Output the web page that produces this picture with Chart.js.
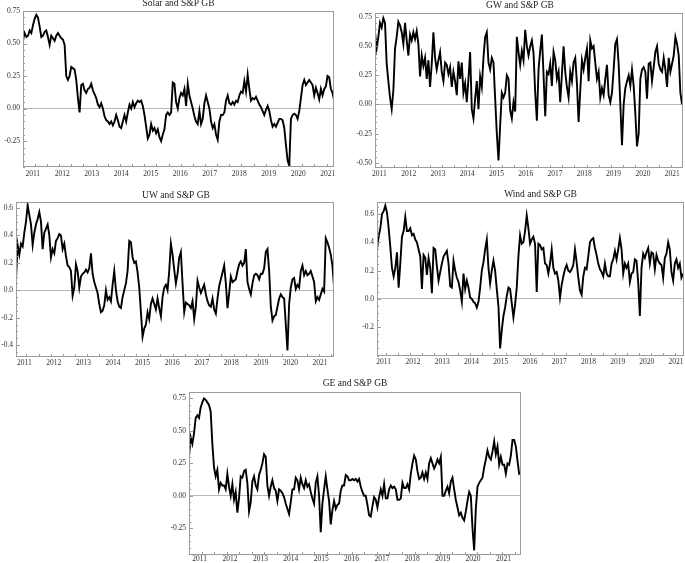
<!DOCTYPE html>
<html>
<head>
<meta charset="utf-8">
<script src="https://cdn.jsdelivr.net/npm/chart.js@4.4.1/dist/chart.umd.min.js"></script>
<style>
  html, body { margin: 0; padding: 0; background: #fff; }
  body { width: 685px; height: 563px; position: relative; overflow: hidden; }
  canvas { position: absolute; }
</style>
</head>
<body>
<canvas id="solar"></canvas>
<canvas id="gw"></canvas>
<canvas id="uw"></canvas>
<canvas id="wind"></canvas>
<canvas id="ge"></canvas>
<script>
// Rolling correlations with S&P GB, sampled every ~3 weeks (year, step in years)
const yearTicks = [2011, 2012, 2013, 2014, 2015, 2016, 2017, 2018, 2019, 2020, 2021];

const solarStart = 2010.67, solarStep = 0.0564;
const solarValues = [
  0.52,0.58,0.55,0.56,0.60,0.58,0.64,0.69,0.72,0.70,
  0.63,0.55,0.56,0.59,0.60,0.55,0.49,0.56,0.54,0.52,
  0.56,0.58,0.56,0.54,0.53,0.49,0.25,0.22,0.25,0.32,
  0.31,0.30,0.22,0.08,-0.03,0.18,0.19,0.14,0.12,0.15,
  0.16,0.19,0.14,0.11,0.08,0.03,0.01,0.04,0.00,-0.06,
  -0.09,-0.10,-0.12,-0.10,-0.13,-0.10,-0.05,-0.09,-0.14,-0.15,
  -0.10,-0.05,-0.10,-0.03,0.03,0.00,0.05,0.01,0.04,0.06,
  0.05,0.06,0.02,-0.05,-0.14,-0.23,-0.20,-0.12,-0.17,-0.15,
  -0.19,-0.16,-0.22,-0.25,-0.20,-0.16,-0.05,-0.03,-0.05,-0.03,
  0.20,0.19,0.05,0.00,0.08,0.12,0.10,0.15,0.02,0.19,
  0.10,0.05,0.00,-0.06,-0.10,-0.12,-0.02,-0.12,-0.08,0.04,
  0.10,0.05,0.00,-0.10,-0.15,-0.12,-0.20,-0.24,-0.10,-0.05,
  -0.05,-0.03,0.06,0.10,0.04,0.03,0.05,0.03,0.06,0.05,
  0.10,0.13,0.12,0.21,0.13,0.26,0.15,0.06,0.08,0.07,
  0.09,0.06,0.03,0.01,-0.02,-0.05,-0.01,0.02,-0.02,-0.09,
  -0.14,-0.12,-0.14,-0.11,-0.08,-0.08,-0.09,-0.15,-0.28,-0.40,
  -0.44,-0.08,-0.05,-0.04,-0.05,-0.08,-0.02,0.08,0.18,0.22,
  0.18,0.20,0.22,0.20,0.18,0.10,0.16,0.12,0.07,0.15,
  0.10,0.15,0.17,0.25,0.24,0.15,0.12,0.06
];
const solarYTicks = [-0.25, 0, 0.25, 0.5, 0.75];

const gwStart = 2010.85, gwStep = 0.0570;
const gwValues = [
  0.62,0.48,0.58,0.70,0.66,0.74,0.70,0.35,0.20,0.06,
  -0.04,0.12,0.48,0.58,0.71,0.68,0.62,0.52,0.70,0.55,
  0.42,0.60,0.55,0.62,0.56,0.63,0.52,0.24,0.42,0.33,
  0.40,0.22,0.38,0.15,0.35,0.62,0.40,0.30,0.38,0.45,
  0.28,0.20,0.36,0.34,0.26,0.32,0.15,0.28,0.20,0.08,
  0.37,0.22,0.36,0.10,0.18,0.02,0.22,0.45,-0.04,-0.12,
  0.05,0.20,-0.04,0.24,0.15,0.40,0.58,0.62,0.36,0.30,
  0.40,0.36,0.05,-0.25,-0.48,-0.18,0.10,0.06,0.10,0.25,
  0.22,-0.05,-0.12,0.02,-0.06,0.58,0.45,0.34,0.46,0.38,
  0.64,0.50,0.42,0.50,0.55,0.44,0.10,-0.14,0.30,0.46,
  0.60,0.25,-0.10,0.28,0.26,0.35,0.16,0.45,0.38,0.22,
  0.28,0.02,0.26,0.50,0.28,0.15,0.06,0.28,0.20,0.36,
  0.40,0.18,-0.15,0.12,0.38,0.30,0.40,0.48,0.20,0.55,
  0.48,0.50,0.36,0.22,0.28,0.06,0.14,0.08,0.22,0.34,
  0.08,0.02,0.10,0.30,0.52,0.56,0.35,0.00,-0.35,0.00,
  0.14,0.20,0.25,0.16,0.30,0.16,-0.08,-0.36,-0.25,0.22,
  0.30,0.32,0.28,0.05,0.35,0.36,0.20,0.32,0.45,0.50,
  0.35,0.30,0.28,0.40,0.30,0.15,0.40,0.28,0.35,0.42,
  0.58,0.52,0.42,0.10,0.00
];
const gwYTicks = [-0.5, -0.25, 0, 0.25, 0.5, 0.75];

const uwStart = 2010.72, uwStep = 0.0563;
const uwValues = [
  0.08,0.33,0.26,0.34,0.32,0.42,0.50,0.62,0.55,0.48,
  0.33,0.42,0.48,0.52,0.57,0.50,0.30,0.42,0.45,0.48,
  0.40,0.24,0.30,0.27,0.36,0.38,0.41,0.40,0.30,0.34,
  0.25,0.18,0.17,0.14,-0.04,0.02,0.19,0.14,0.02,0.10,
  0.12,0.13,0.15,0.13,0.16,0.27,0.12,0.06,0.02,-0.02,
  -0.10,-0.16,-0.15,-0.11,0.00,-0.07,-0.05,-0.08,0.04,0.14,
  0.00,-0.08,-0.12,-0.13,-0.05,0.00,0.05,0.14,0.36,0.35,
  0.24,0.20,0.21,0.13,0.02,-0.16,-0.34,-0.28,-0.25,-0.16,
  -0.21,-0.10,-0.06,-0.10,-0.14,-0.06,-0.13,-0.19,-0.05,0.02,
  0.04,0.00,0.14,0.34,0.26,0.15,0.05,0.12,0.24,0.28,
  0.05,-0.16,-0.09,-0.10,-0.11,-0.13,-0.08,-0.21,-0.12,0.07,
  0.02,-0.02,0.01,0.04,-0.03,-0.08,-0.11,-0.12,-0.06,-0.14,
  -0.17,-0.06,0.03,0.08,0.13,0.18,0.05,-0.13,-0.02,0.10,
  0.06,0.07,0.08,0.14,0.19,0.21,0.18,0.20,0.30,0.06,
  0.01,-0.03,0.05,0.11,0.12,0.11,0.08,0.12,0.12,0.16,
  0.28,0.30,0.14,-0.12,-0.22,-0.19,-0.18,-0.12,-0.06,-0.03,
  -0.05,-0.06,-0.25,-0.44,-0.10,0.02,0.08,0.09,0.01,0.04,
  0.02,0.14,0.18,0.11,0.14,0.11,0.12,0.14,0.10,0.06,
  -0.08,-0.05,-0.07,-0.03,0.01,-0.01,0.38,0.35,0.31,0.26,
  0.18,0.02
];
const uwYTicks = [-0.4, -0.2, 0, 0.2, 0.4, 0.6];

const windStart = 2010.77, windStep = 0.0569;
const windValues = [
  0.35,0.44,0.50,0.60,0.62,0.66,0.61,0.50,0.37,0.22,
  0.16,0.22,0.33,0.08,0.25,0.44,0.48,0.58,0.48,0.48,
  0.50,0.45,0.46,0.42,0.40,0.35,0.30,0.07,0.31,0.29,
  0.17,0.29,0.22,0.04,0.36,0.35,0.23,0.13,0.19,0.25,
  0.30,0.32,0.34,0.25,0.09,0.08,0.27,0.20,0.15,0.12,
  0.06,-0.02,0.18,0.07,0.13,0.08,0.01,0.00,-0.02,-0.03,
  -0.06,-0.02,0.08,0.20,0.26,0.35,0.42,0.22,0.11,0.20,
  0.27,0.20,0.07,-0.05,-0.35,-0.22,-0.12,-0.06,0.02,0.08,
  0.07,-0.03,-0.13,-0.04,0.08,0.30,0.45,0.39,0.40,0.48,
  0.59,0.50,0.39,0.42,0.44,0.39,0.05,0.39,0.38,0.35,
  0.36,0.25,0.24,0.18,0.25,0.35,0.22,0.18,0.19,0.13,
  0.01,0.10,0.16,0.21,0.24,0.20,0.19,0.21,0.24,0.35,
  0.26,0.15,0.06,0.03,0.16,0.22,0.21,0.30,0.40,0.42,
  0.43,0.36,0.31,0.25,0.21,0.19,0.16,0.25,0.18,0.16,
  0.16,0.25,0.28,0.34,0.28,0.35,0.43,0.35,0.18,0.25,
  0.22,0.25,0.12,0.18,0.19,0.28,0.27,0.12,-0.12,0.22,
  0.32,0.29,0.33,0.36,0.25,0.33,0.32,0.21,0.31,0.27,
  0.25,0.24,0.15,0.29,0.32,0.40,0.35,0.19,0.13,0.25,
  0.28,0.22,0.25,0.15,0.18
];
const windYTicks = [-0.2, 0, 0.2, 0.4, 0.6];

const geStart = 2010.65, geStep = 0.0549;
const geValues = [
  0.30,0.45,0.40,0.48,0.60,0.62,0.60,0.68,0.72,0.75,
  0.74,0.72,0.70,0.65,0.40,0.22,0.15,0.20,0.05,0.10,
  0.08,0.08,0.05,0.17,0.07,0.00,0.09,-0.03,0.03,-0.13,
  -0.02,0.15,0.14,0.19,0.20,0.10,-0.12,-0.05,0.11,0.15,
  0.08,0.05,0.16,0.20,0.25,0.32,0.30,0.08,0.00,0.07,
  0.12,0.06,0.04,-0.04,0.05,0.04,0.02,-0.01,-0.06,-0.10,
  -0.14,-0.05,0.05,0.05,0.14,0.12,0.05,0.14,0.09,0.06,
  0.12,0.07,0.09,0.03,-0.02,-0.06,0.10,0.15,0.00,-0.28,
  -0.06,0.05,0.15,0.05,-0.04,-0.22,-0.11,-0.04,-0.10,-0.07,
  -0.06,0.04,0.08,0.08,0.16,0.15,0.12,0.12,0.13,0.12,
  0.13,0.11,0.13,0.07,0.03,0.00,0.00,-0.07,-0.15,-0.16,
  -0.08,-0.01,-0.03,-0.09,-0.01,0.05,0.00,0.09,-0.02,-0.02,
  0.05,0.08,0.06,0.07,0.05,-0.03,-0.03,-0.02,0.10,0.06,
  0.06,0.09,0.05,0.17,0.25,0.31,0.28,0.19,0.13,0.14,
  0.18,0.13,0.18,0.13,0.25,0.29,0.25,0.21,0.24,0.28,
  0.25,0.30,0.00,0.00,0.04,0.07,0.02,0.11,0.14,0.05,
  -0.03,-0.09,-0.15,-0.13,-0.17,-0.19,-0.12,-0.04,0.03,0.00,
  -0.25,-0.42,-0.10,0.07,0.10,0.12,0.14,0.22,0.28,0.35,
  0.30,0.28,0.34,0.42,0.32,0.38,0.24,0.30,0.24,0.24,
  0.17,0.25,0.24,0.31,0.43,0.43,0.38,0.27,0.17,0.18
];
const geYTicks = [-0.25, 0, 0.25, 0.5, 0.75];

// layout of each cropped panel: box = [left, top, width, height]
const panels = [
  { id: 'solar', title: 'Solar and S&P GB', start: solarStart, step: solarStep, values: solarValues, yTicks: solarYTicks, dec: 2,
    xMin: 2010.67, xMax: 2021.21, yMin: -0.45, yMax: 0.75,
    box: [0, 0, 340, 185], yW: 23, xH: 18, padTop: 11, padRight: 6, titleDx: 0, titleDy: 8, xPad: 3 },
  { id: 'gw', title: 'GW and S&P GB', start: gwStart, step: gwStep, values: gwValues, yTicks: gwYTicks, dec: 2,
    xMin: 2010.85, xMax: 2021.37, yMin: -0.545, yMax: 0.785,
    box: [342, 0, 343, 185], yW: 33, xH: 17, padTop: 13, padRight: 2, titleDx: -9, titleDy: 8, xPad: 2 },
  { id: 'uw', title: 'UW and S&P GB', start: uwStart, step: uwStep, values: uwValues, yTicks: uwYTicks, dec: 1,
    xMin: 2010.72, xMax: 2021.47, yMin: -0.487, yMax: 0.644,
    box: [0, 185, 340, 190], yW: 16, xH: 18, padTop: 17, padRight: 6, titleDx: 1, titleDy: 7, xPad: 2 },
  { id: 'wind', title: 'Wind and S&P GB', start: windStart, step: windStep, values: windValues, yTicks: windYTicks, dec: 1,
    xMin: 2010.77, xMax: 2021.27, yMin: -0.403, yMax: 0.685,
    box: [342, 185, 343, 190], yW: 35, xH: 19, padTop: 17, padRight: 1, titleDx: 10, titleDy: 8, xPad: 2 },
  { id: 'ge', title: 'GE and S&P GB', start: geStart, step: geStep, values: geValues, yTicks: geYTicks, dec: 2,
    xMin: 2010.65, xMax: 2021.58, yMin: -0.456, yMax: 0.80,
    box: [160, 375, 370, 188], yW: 29, xH: 8, padTop: 17, padRight: 9, titleDx: 0, titleDy: 9, xPad: 0 }
];

const tickFont = { family: '"Liberation Serif", "DejaVu Serif", serif', size: 7.5 };
const tickColor = '#333';
const frameColor = '#9c9c9c';

// frame box plus inward tick marks on left and bottom
const frameTicks = {
  id: 'frameTicks',
  afterDatasetsDraw(chart, args, opts) {
    const { ctx, chartArea: a, scales: { x, y } } = chart;
    ctx.save();
    ctx.strokeStyle = frameColor;
    ctx.lineWidth = 1;
    ctx.beginPath();
    const k0 = Math.ceil(y.min / 0.05 - 1e-6), k1 = Math.floor(y.max / 0.05 + 1e-6);
    for (let k = k0; k <= k1; k++) {
      const v = k * 0.05;
      const major = opts.yTicks.some(t => Math.abs(t - v) < 1e-6);
      const py = Math.round(y.getPixelForValue(v)) + 0.5;
      ctx.moveTo(a.left, py);
      ctx.lineTo(a.left + (major ? 4 : 2), py);
    }
    const xs = 2011.07, xStep = 0.412;
    const j0 = Math.ceil((x.min - xs) / xStep), j1 = Math.floor((x.max - xs) / xStep);
    for (let j = j0; j <= j1; j++) {
      const px = Math.round(x.getPixelForValue(xs + j * xStep)) + 0.5;
      ctx.moveTo(px, a.bottom);
      ctx.lineTo(px, a.bottom - 3);
    }
    ctx.stroke();
    const l = Math.round(a.left) + 0.5, t = Math.round(a.top) + 0.5;
    const r = Math.round(a.right) - 0.5, b = Math.round(a.bottom) - 0.5;
    ctx.strokeRect(l, t, r - l, b - t);
    ctx.restore();
  }
};

const panelTitle = {
  id: 'panelTitle',
  afterDraw(chart, args, opts) {
    const { ctx, chartArea: a } = chart;
    ctx.save();
    ctx.font = '9.5px "Liberation Serif", "DejaVu Serif", serif';
    ctx.fillStyle = '#222';
    ctx.textAlign = 'center';
    ctx.textBaseline = 'middle';
    ctx.fillText(opts.text, (a.left + a.right) / 2 + opts.dx, a.top - opts.dy);
    ctx.restore();
  }
};

panels.forEach(p => {
  const canvas = document.getElementById(p.id);
  const [left, top, w, h] = p.box;
  canvas.width = w;
  canvas.height = h;
  canvas.style.left = left + 'px';
  canvas.style.top = top + 'px';
  canvas.style.width = w + 'px';
  canvas.style.height = h + 'px';

  const points = p.values.map((v, i) => ({ x: p.start + i * p.step, y: v }));

  new Chart(canvas, {
    type: 'line',
    data: {
      datasets: [{
        data: points,
        borderColor: '#000',
        borderWidth: 1.9,
        pointRadius: 0,
        tension: 0,
        fill: false
      }]
    },
    options: {
      responsive: false,
      animation: false,
      devicePixelRatio: 1,
      layout: { padding: { top: p.padTop, right: p.padRight, left: 0, bottom: 0 } },
      plugins: {
        legend: { display: false },
        tooltip: { enabled: false },
        frameTicks: { yTicks: p.yTicks },
        panelTitle: { text: p.title, dx: p.titleDx, dy: p.titleDy }
      },
      scales: {
        x: {
          type: 'linear',
          min: p.xMin,
          max: p.xMax,
          afterBuildTicks: s => { s.ticks = yearTicks.map(v => ({ value: v })); },
          afterFit: s => { s.height = p.xH; s.paddingLeft = 0; s.paddingRight = 0; },
          grid: { display: false, drawTicks: false },
          border: { display: false },
          ticks: { font: tickFont, color: tickColor, padding: p.xPad, maxRotation: 0, autoSkip: false,
                   callback: v => String(v) }
        },
        y: {
          min: p.yMin,
          max: p.yMax,
          afterBuildTicks: s => { s.ticks = p.yTicks.map(v => ({ value: v })); },
          afterFit: s => { s.width = p.yW; s.paddingTop = 0; s.paddingBottom = 0; },
          grid: { drawTicks: false, lineWidth: 1,
                  color: c => (c.tick && Math.abs(c.tick.value) < 1e-9) ? '#b8b8b8' : 'rgba(0,0,0,0)' },
          border: { display: false },
          ticks: { font: tickFont, color: tickColor, padding: 3, autoSkip: false,
                   callback: v => v.toFixed(p.dec) }
        }
      }
    },
    plugins: [frameTicks, panelTitle]
  });
});
</script>
</body>
</html>
